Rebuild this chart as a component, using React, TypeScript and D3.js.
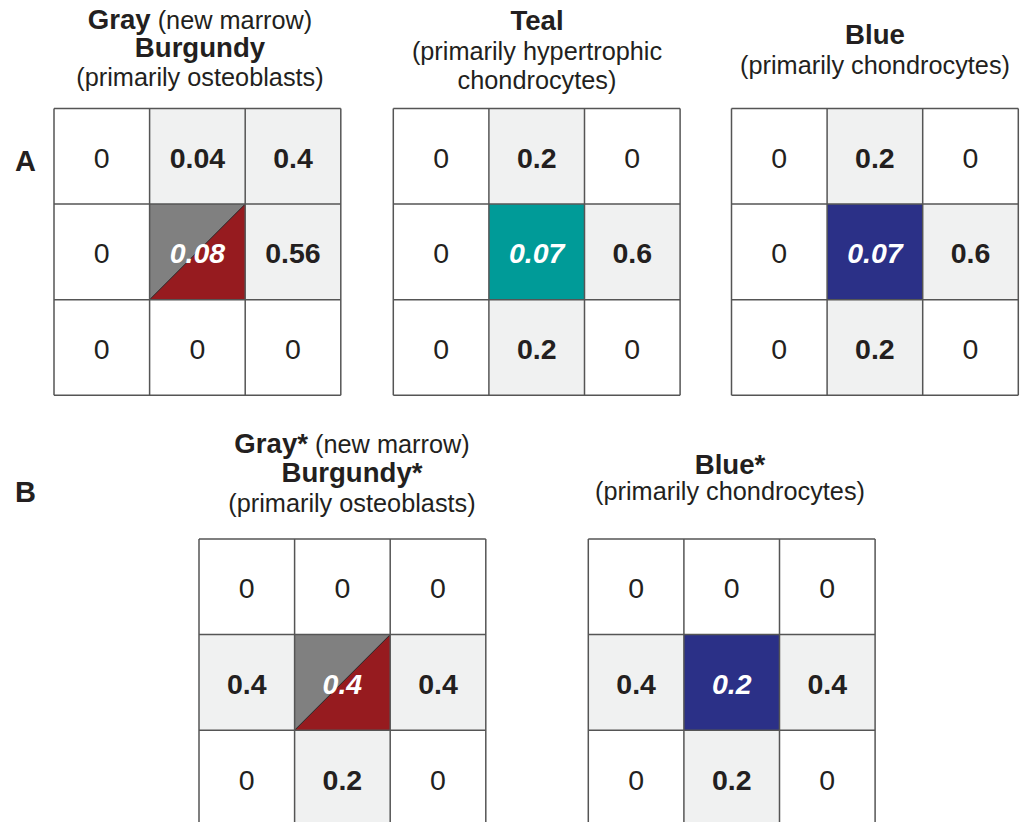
import * as d3 from "d3";
import React from "react";

// cell values, row by row
const grayBurgundyA = [0, 0.04, 0.4, 0, 0.08, 0.56, 0, 0, 0];
const tealA = [0, 0.2, 0, 0, 0.07, 0.6, 0, 0.2, 0];
const blueA = [0, 0.2, 0, 0, 0.07, 0.6, 0, 0.2, 0];
const grayBurgundyB = [0, 0, 0, 0.4, 0.4, 0.4, 0, 0.2, 0];
const blueB = [0, 0, 0, 0.4, 0.2, 0.4, 0, 0.2, 0];

const colors = {
  text: "#231f20",
  line: "#555555",
  light: "#f0f1f1",
  gray: "#808080",
  burgundy: "#961b1f",
  teal: "#009b98",
  blue: "#2b3087",
};

type TitleLine = { parts: { t: string; bold: boolean }[]; y: number };

type GridProps = {
  x: number;
  y: number;
  values: number[];
  center: "split" | "teal" | "blue";
  titleX: number;
  title: TitleLine[];
};

const CELL = 95.6;
const FONT = "'Liberation Sans', Arial, Helvetica, sans-serif";

const Grid = ({ x, y, values, center, titleX, title }: GridProps) => {
  const xs = d3.scaleBand<number>().domain([0, 1, 2]).range([x, x + CELL * 3]);
  const ys = d3.scaleBand<number>().domain([0, 1, 2]).range([y, y + CELL * 3]);
  const w = xs.bandwidth();

  return (
    <g>
      {title.map((line, i) => (
        <text key={i} x={titleX} y={line.y} textAnchor="middle" fontFamily={FONT} fill={colors.text}>
          {line.parts.map((p, j) => (
            <tspan key={j} fontWeight={p.bold ? 700 : 400} fontSize={p.bold ? 27.6 : 25.3}>
              {p.t}
            </tspan>
          ))}
        </text>
      ))}
      {values.map((v, i) => {
        const r = Math.floor(i / 3);
        const c = i % 3;
        const cx = xs(c)!;
        const cy = ys(r)!;
        const isCenter = r === 1 && c === 1;
        let fill = v > 0 ? colors.light : "white";
        if (isCenter && center !== "split") fill = colors[center];
        return (
          <g key={i}>
            <rect x={cx} y={cy} width={w} height={w} fill={fill} />
            {isCenter && center === "split" && (
              <>
                <path d={`M${cx},${cy}H${cx + w}L${cx},${cy + w}Z`} fill={colors.gray} />
                <path d={`M${cx + w},${cy}V${cy + w}H${cx}Z`} fill={colors.burgundy} />
                <line x1={cx} y1={cy + w} x2={cx + w} y2={cy} stroke="#222" strokeWidth={1} />
              </>
            )}
          </g>
        );
      })}
      {/* grid lines */}
      {d3.range(4).map((k) => (
        <g key={k}>
          <line x1={x + k * w} x2={x + k * w} y1={y} y2={y + 3 * w} stroke={colors.line} strokeWidth={1.5} />
          <line y1={y + k * w} y2={y + k * w} x1={x} x2={x + 3 * w} stroke={colors.line} strokeWidth={1.5} />
        </g>
      ))}
      {values.map((v, i) => {
        const r = Math.floor(i / 3);
        const c = i % 3;
        const isCenter = r === 1 && c === 1;
        return (
          <text
            key={"t" + i}
            x={xs(c)! + w / 2}
            y={ys(r)! + w / 2 + 11.5}
            textAnchor="middle"
            fontFamily={FONT}
            fontSize={28.5}
            fontWeight={v > 0 || isCenter ? 700 : 400}
            fontStyle={isCenter ? "italic" : "normal"}
            fill={isCenter ? "white" : colors.text}
          >
            {String(v)}
          </text>
        );
      })}
    </g>
  );
};

export default function App() {
  return (
    <svg
      width={1021}
      height={822}
      style={{ position: "absolute", left: 0, top: 0, background: "white" }}
    >
      <text x={15} y={171} fontFamily={FONT} fontWeight={700} fontSize={29} fill={colors.text}>A</text>
      <text x={15} y={502} fontFamily={FONT} fontWeight={700} fontSize={29} fill={colors.text}>B</text>

      <Grid
        x={54}
        y={108.5}
        values={grayBurgundyA}
        center="split"
        titleX={200}
        title={[
          { parts: [{ t: "Gray", bold: true }, { t: " (new marrow)", bold: false }], y: 29 },
          { parts: [{ t: "Burgundy", bold: true }], y: 57 },
          { parts: [{ t: "(primarily osteoblasts)", bold: false }], y: 86 },
        ]}
      />
      <Grid
        x={393.3}
        y={108.5}
        values={tealA}
        center="teal"
        titleX={537}
        title={[
          { parts: [{ t: "Teal", bold: true }], y: 30 },
          { parts: [{ t: "(primarily hypertrophic", bold: false }], y: 59.5 },
          { parts: [{ t: "chondrocytes)", bold: false }], y: 89 },
        ]}
      />
      <Grid
        x={731.5}
        y={108.5}
        values={blueA}
        center="blue"
        titleX={875}
        title={[
          { parts: [{ t: "Blue", bold: true }], y: 43.5 },
          { parts: [{ t: "(primarily chondrocytes)", bold: false }], y: 73.5 },
        ]}
      />
      <Grid
        x={199}
        y={539}
        values={grayBurgundyB}
        center="split"
        titleX={352}
        title={[
          { parts: [{ t: "Gray*", bold: true }, { t: " (new marrow)", bold: false }], y: 453 },
          { parts: [{ t: "Burgundy*", bold: true }], y: 482 },
          { parts: [{ t: "(primarily osteoblasts)", bold: false }], y: 512 },
        ]}
      />
      <Grid
        x={588.3}
        y={539}
        values={blueB}
        center="blue"
        titleX={730}
        title={[
          { parts: [{ t: "Blue*", bold: true }], y: 474 },
          { parts: [{ t: "(primarily chondrocytes)", bold: false }], y: 500 },
        ]}
      />
    </svg>
  );
}
